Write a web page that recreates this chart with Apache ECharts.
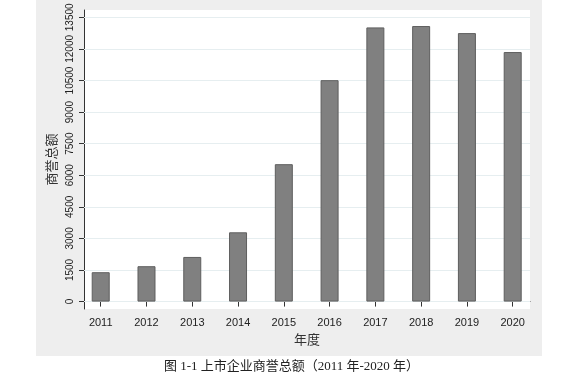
<!DOCTYPE html>
<html>
<head>
<meta charset="utf-8">
<script src="https://cdn.jsdelivr.net/npm/echarts@6/dist/echarts.min.js"></script>
<style>html,body{margin:0;padding:0;background:#fff}#c{width:583px;height:382px}</style>
</head>
<body>
<div id="c"></div>
<script>
var years = [2011, 2012, 2013, 2014, 2015, 2016, 2017, 2018, 2019, 2020];
var goodwill = [1395, 1680, 2120, 3290, 6525, 10515, 13020, 13085, 12750, 11850];
var yTicks = [0, 1500, 3000, 4500, 6000, 7500, 9000, 10500, 12000, 13500];
var yName = '商誉总额';
var xName = '年度';
var caption = '图 1-1 上市企业商誉总额（2011 年-2020 年）';

var chart = echarts.init(document.getElementById('c'), null, {renderer: 'canvas'});
var data = years.map(function (y, i) { return [y, goodwill[i]]; });
var tickFont = 'Liberation Sans';
chart.setOption({
  animation: false,
  backgroundColor: '#ffffff',
  graphic: [
    {type: 'rect', z: -10, shape: {x: 36, y: 0, width: 506, height: 356}, style: {fill: '#eeeeee'}},
    {type: 'text', left: 'center', top: 360, style: {text: caption, font: '13px "Liberation Serif", "Noto Sans CJK SC"', fill: '#222'}}
  ],
  grid: {left: 84, right: 53, top: 10, bottom: 73, show: true, backgroundColor: '#ffffff', borderWidth: 0},
  xAxis: {
    type: 'value', min: 2010.635, max: 2020.378,
    name: xName, nameLocation: 'middle', nameGap: 18,
    nameTextStyle: {fontFamily: 'Noto Sans CJK SC', fontSize: 13, color: '#333'},
    axisLine: {show: true, lineStyle: {color: '#333', width: 1}},
    axisTick: {show: true, length: 5, customValues: years, lineStyle: {color: '#333'}},
    axisLabel: {customValues: years, margin: 8, hideOverlap: false, fontFamily: tickFont, fontSize: 11, color: '#222', formatter: function (v) { return String(Math.round(v)); }},
    splitLine: {show: false}
  },
  yAxis: {
    type: 'value', min: -352, max: 13847,
    name: yName, nameLocation: 'middle', nameGap: 25, nameRotate: 90,
    nameTextStyle: {fontFamily: 'Noto Sans CJK SC', fontSize: 13, color: '#333'},
    axisLine: {show: true, lineStyle: {color: '#333', width: 1}},
    axisTick: {show: true, length: 5, customValues: yTicks, lineStyle: {color: '#333'}},
    axisLabel: {customValues: yTicks, rotate: 90, margin: 9, hideOverlap: false, fontFamily: tickFont, fontSize: 10, color: '#222', formatter: function (v) { return String(Math.round(v)); }},
    splitLine: {show: false}
  },
  series: [{
    type: 'bar', data: data, barWidth: 18,
    itemStyle: {color: '#808080', borderColor: '#5e5e5e', borderWidth: 1},
    markLine: {
      silent: true, symbol: 'none', z: 1, label: {show: false},
      lineStyle: {color: '#e6eef0', width: 1, type: 'solid'},
      data: yTicks.map(function (t) { return {yAxis: t}; })
    }
  }]
});
</script>
</body>
</html>
